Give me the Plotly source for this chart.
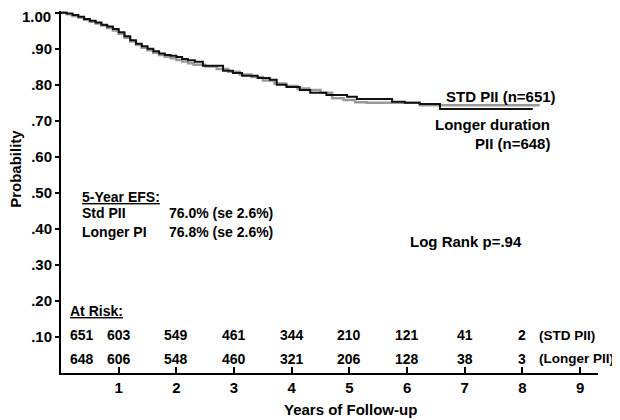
import plotly.graph_objects as go

# Kaplan-Meier curves
std_time = [0, 0.1, 0.2, 0.3, 0.4, 0.5, 0.6, 0.7, 0.8, 0.9, 1.0, 1.1, 1.2, 1.3, 1.4, 1.5, 1.6,
            1.7, 1.8, 1.9, 2.0, 2.1, 2.2, 2.3, 2.5, 2.7, 2.9, 3.1, 3.3, 3.5, 3.7, 3.9, 4.1, 4.3,
            4.5, 4.7, 4.9, 5.1, 5.3, 6.22, 8.3]
std_surv = [1.0, 0.996, 0.991, 0.987, 0.981, 0.975, 0.970, 0.965, 0.958, 0.951, 0.942, 0.931,
            0.920, 0.911, 0.903, 0.896, 0.889, 0.883, 0.878, 0.874, 0.869, 0.865, 0.860, 0.856,
            0.851, 0.844, 0.836, 0.829, 0.822, 0.812, 0.804, 0.797, 0.790, 0.786, 0.778, 0.763,
            0.758, 0.752, 0.750, 0.743, 0.743]

longer_time = [0, 0.1, 0.2, 0.3, 0.4, 0.5, 0.6, 0.7, 0.8, 0.9, 1.0, 1.1, 1.2, 1.3, 1.4, 1.5,
               1.6, 1.7, 1.8, 1.9, 2.0, 2.1, 2.2, 2.32, 2.46, 2.81, 2.98, 3.14, 3.41, 3.62, 3.74,
               3.91, 4.14, 4.32, 4.6, 4.96, 5.13, 5.74, 5.96, 6.22, 6.57, 8.18]
longer_surv = [1.0, 0.998, 0.994, 0.989, 0.983, 0.978, 0.973, 0.967, 0.962, 0.955, 0.946, 0.935,
               0.924, 0.914, 0.907, 0.900, 0.893, 0.887, 0.883, 0.881, 0.877, 0.872, 0.868,
               0.864, 0.853, 0.839, 0.833, 0.825, 0.819, 0.814, 0.800, 0.794, 0.786, 0.778,
               0.772, 0.767, 0.761, 0.753, 0.750, 0.747, 0.733, 0.733]

# At risk table
risk_years = [0, 1, 2, 3, 4, 5, 6, 7, 8]
risk_std = [651, 603, 549, 461, 344, 210, 121, 41, 2]
risk_longer = [648, 606, 548, 460, 321, 206, 128, 38, 3]

y_tickvals = [0.1, 0.2, 0.3, 0.4, 0.5, 0.6, 0.7, 0.8, 0.9, 1.0]
y_ticktext = [".10", ".20", ".30", ".40", ".50", ".60", ".70", ".80", ".90", "1.00"]
x_tickvals = [1, 2, 3, 4, 5, 6, 7, 8, 9]

FONT = "Liberation Sans, Arial, sans-serif"

fig = go.Figure()
fig.add_trace(go.Scatter(x=std_time, y=std_surv, mode="lines", line_shape="hv",
                         line=dict(color="#9a9a9a", width=2.5), hoverinfo="skip"))
fig.add_trace(go.Scatter(x=longer_time, y=longer_surv, mode="lines", line_shape="hv",
                         line=dict(color="#111111", width=2), hoverinfo="skip"))

ann = []
def A(x, y, text, size=15, xanchor="left", xref="x", yref="y", **kw):
    ann.append(dict(x=x, y=y, xref=xref, yref=yref, text=text, showarrow=False,
                    xanchor=xanchor, yanchor="middle", borderpad=0,
                    font=dict(family=FONT, size=size, color="black"), **kw))

A(8.6, 0.769, "<b>STD PII (n=651)</b>", xanchor="right")
A(8.5, 0.689, "<b>Longer duration</b>", xanchor="right")
A(8.5, 0.636, "<b>PII (n=648)</b>", xanchor="right")
A(0.35, 0.489, "<b><u>5-Year EFS:</u></b>", size=14)
A(0.35, 0.444, "<b>Std PII</b>", size=14)
A(1.85, 0.444, "<b>76.0% (se 2.6%)</b>", size=14)
A(0.35, 0.392, "<b>Longer PI</b>", size=14)
A(1.85, 0.392, "<b>76.8% (se 2.6%)</b>", size=14)
A(7.02, 0.364, "<b>Log Rank p=.94</b>", xanchor="center")
A(0.14, 0.172, "<b><u>At Risk:</u></b>", size=14)
for t, a, b in zip(risk_years, risk_std, risk_longer):
    if t == 0:
        A(t, 0.105, f"<b>{a}</b>", size=14, xanchor="left", xshift=8)
        A(t, 0.039, f"<b>{b}</b>", size=14, xanchor="left", xshift=8)
    else:
        A(t, 0.105, f"<b>{a}</b>", size=14, xanchor="center")
        A(t, 0.039, f"<b>{b}</b>", size=14, xanchor="center")
A(8.27, 0.105, "<b>(STD PII)</b>", size=13.5)
A(8.27, 0.039, "<b>(Longer PII)</b>", size=13.5)
A(0.54, -0.102, "<b>Years of Follow-up</b>", xanchor="center", xref="paper", yref="paper")
A(-0.086, 0.5635, "<b>Probability</b>", xanchor="center", xref="paper", yref="paper",
  textangle=-90)
# top tick label sits slightly below its tick (no room above the axis)
A(0, y_tickvals[-1], f"<b>{y_ticktext[-1]}</b>", xanchor="right", xref="paper", yshift=-4,
  xshift=-9)

fig.update_layout(
    width=612, height=412,
    margin=dict(l=53, r=22, t=3, b=47, autoexpand=False),
    paper_bgcolor="white", plot_bgcolor="white",
    showlegend=False,
    annotations=ann,
    xaxis=dict(range=[0, 9.31], tickvals=x_tickvals, ticktext=[f"<b>{v}</b>" for v in x_tickvals],
               ticks="inside", ticklen=6, tickwidth=2, tickcolor="black", automargin=False,
               showline=True, linewidth=2, linecolor="black", showgrid=False, zeroline=False,
               tickfont=dict(family=FONT, size=15, color="black")),
    yaxis=dict(range=[0, 1.005], tickvals=y_tickvals,
               ticktext=[f"<b>{v}</b>" for v in y_ticktext[:-1]] + [""],
               ticks="outside", ticklen=4, tickwidth=2, tickcolor="black", automargin=False,
               showline=True, linewidth=2, linecolor="black", showgrid=False, zeroline=False,
               tickfont=dict(family=FONT, size=15, color="black")),
)

fig.write_html("out.html")
